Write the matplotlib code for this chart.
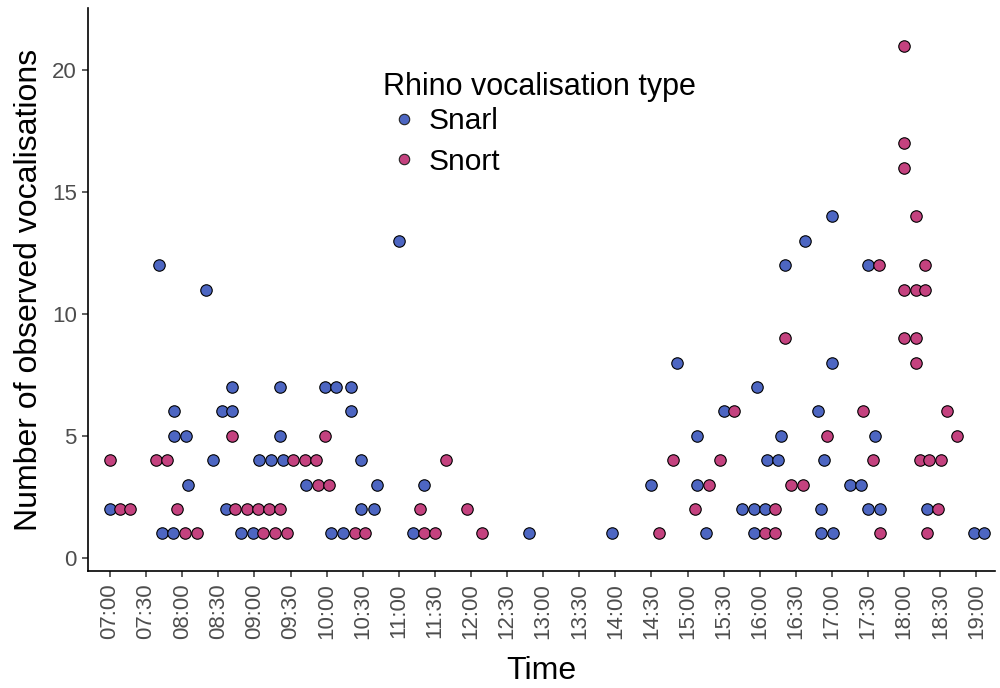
import matplotlib.pyplot as plt
from matplotlib.lines import Line2D

# ---------------------------------------------------------
# DATA
# ---------------------------------------------------------

SNARL_TIME = [
    "07:00", "07:41", "07:43", "07:52", "07:53", "07:53", "08:03", "08:05",
    "08:20", "08:26", "08:33", "08:36", "08:41", "08:41", "08:49", "08:59",
    "09:04", "09:14", "09:21", "09:21", "09:24", "09:43", "09:59", "10:04",
    "10:08", "10:14", "10:20", "10:20", "10:29", "10:29", "10:39", "10:42",
    "11:00", "11:12", "11:21", "12:48", "13:57", "14:30", "14:51", "15:08",
    "15:08", "15:15", "15:30", "15:45", "15:55", "15:55", "15:58", "16:04",
    "16:06", "16:15", "16:18", "16:21", "16:38", "16:48", "16:51", "16:51",
    "16:53", "17:00", "17:00", "17:01", "17:15", "17:24", "17:30", "17:30",
    "17:36", "17:40", "18:19", "18:58", "19:06",
]
SNARL_COUNT = [
    2, 12, 1, 1, 6, 5, 5, 3,
    11, 4, 6, 2, 7, 6, 1, 1,
    4, 4, 7, 5, 4, 3, 7, 1,
    7, 1, 7, 6, 4, 2, 2, 3,
    13, 1, 3, 1, 1, 3, 8, 5,
    3, 1, 6, 2, 2, 1, 7, 2,
    4, 4, 5, 12, 13, 6, 2, 1,
    4, 14, 8, 1, 3, 3, 12, 2,
    5, 2, 2, 1, 1,
]

SNORT_TIME = [
    "07:00", "07:08", "07:17", "07:38", "07:47", "07:56", "08:02", "08:12",
    "08:41", "08:44", "08:54", "09:03", "09:07", "09:12", "09:17", "09:21",
    "09:27", "09:32", "09:42", "09:51", "09:53", "09:59", "10:02", "10:24",
    "10:32", "11:18", "11:21", "11:30", "11:39", "11:57", "12:09", "14:36",
    "14:48", "15:06", "15:18", "15:27", "15:39", "16:04", "16:13", "16:13",
    "16:21", "16:26", "16:36", "16:56", "17:26", "17:34", "17:39", "17:40",
    "18:00", "18:00", "18:00", "18:00", "18:00", "18:10", "18:10", "18:10",
    "18:10", "18:17", "18:17", "18:13", "18:21", "18:19", "18:28", "18:31",
    "18:36", "18:44",
]
SNORT_COUNT = [
    4, 2, 2, 4, 4, 2, 1, 1,
    5, 2, 2, 2, 1, 2, 1, 2,
    1, 4, 4, 4, 3, 5, 3, 1,
    1, 2, 1, 1, 4, 2, 1, 1,
    4, 2, 3, 4, 6, 1, 2, 1,
    9, 3, 3, 5, 6, 4, 12, 1,
    21, 17, 16, 11, 9, 14, 11, 9,
    8, 12, 11, 4, 4, 1, 2, 4,
    6, 5,
]

TIME_TICKS = [
    "07:00", "07:30", "08:00", "08:30", "09:00", "09:30", "10:00", "10:30",
    "11:00", "11:30", "12:00", "12:30", "13:00", "13:30", "14:00", "14:30",
    "15:00", "15:30", "16:00", "16:30", "17:00", "17:30", "18:00", "18:30",
    "19:00",
]
COUNT_TICKS = [0, 5, 10, 15, 20]

SNARL_COLOUR = "#4d66c2"
SNORT_COLOUR = "#c4427f"
TEXT_GREY = "#4d4d4d"


def to_minutes(t):
    h, m = t.split(":")
    return int(h) * 60 + int(m)


# ---------------------------------------------------------
# PLOT
# ---------------------------------------------------------

def plot():
    plt.rcParams["font.family"] = ["Liberation Sans", "DejaVu Sans"]

    fig = plt.figure(figsize=(10, 6.88), dpi=100)
    ax = fig.add_axes([0.088, 0.170, 0.907, 0.818])

    marker_kw = dict(s=68, edgecolors="black", linewidths=0.8, zorder=3)
    ax.scatter([to_minutes(t) for t in SNARL_TIME], SNARL_COUNT,
               color=SNARL_COLOUR, **marker_kw)
    ax.scatter([to_minutes(t) for t in SNORT_TIME], SNORT_COUNT,
               color=SNORT_COLOUR, **marker_kw)

    ax.set_xlim(401.7, 1155.5)
    ax.set_ylim(-0.54, 22.53)

    ax.set_xticks([to_minutes(t) for t in TIME_TICKS])
    ax.set_xticklabels(TIME_TICKS, rotation=90)
    ax.set_yticks(COUNT_TICKS)

    ax.tick_params(axis="both", labelsize=16, labelcolor=TEXT_GREY,
                   color="#333333", length=4, width=1.1)
    ax.tick_params(axis="x", pad=5)
    ax.tick_params(axis="y", pad=4)

    for side in ["top", "right"]:
        ax.spines[side].set_visible(False)
    for side in ["left", "bottom"]:
        ax.spines[side].set_linewidth(1.2)

    ax.set_xlabel("Time", fontsize=23, labelpad=12)
    ax.set_ylabel("Number of observed vocalisations", fontsize=23, labelpad=6)

    # legend title drawn on its own so the keys can be spaced apart
    # without pushing them away from the title
    fig.text(0.3826, 0.8735, "Rhino vocalisation type", fontsize=22,
             ha="left", va="center")
    handles = [
        Line2D([], [], ls="", marker="o", markersize=7.5, markerfacecolor=c,
               markeredgecolor="#222222", markeredgewidth=0.8)
        for c in (SNARL_COLOUR, SNORT_COLOUR)
    ]
    ax.legend(handles, ["Snarl", "Snort"],
              loc="upper left", bbox_to_anchor=(0.3826, 0.844),
              bbox_transform=fig.transFigure, frameon=False, borderpad=0,
              borderaxespad=0, fontsize=21.5,
              handlelength=1.4, handletextpad=0.15, labelspacing=0.42)

    fig.savefig("out.png", dpi=100)
    plt.close(fig)


def main():
    plot()


if __name__ == "__main__":
    main()
